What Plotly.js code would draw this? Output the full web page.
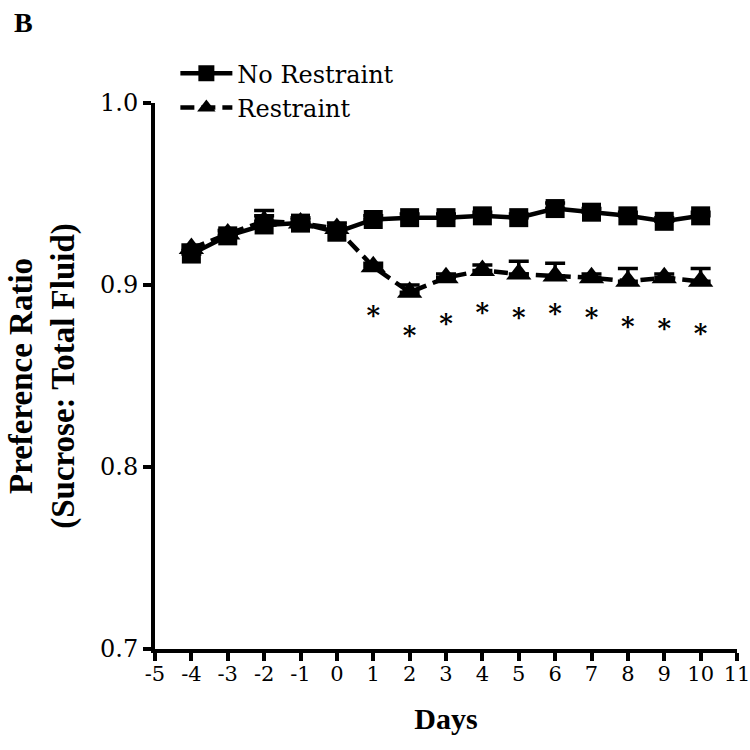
<!DOCTYPE html>
<html>
<head>
<script src="https://cdn.plot.ly/plotly-3.0.1.min.js"></script>
<style>body{margin:0;background:#fff}#chart{width:750px;height:750px}</style>
</head>
<body>
<div id="chart"></div>
<script>
var days = [-4,-3,-2,-1,0,1,2,3,4,5,6,7,8,9,10];
var noRestraint = [0.917,0.927,0.933,0.934,0.929,0.936,0.937,0.937,0.938,0.937,0.942,0.940,0.938,0.935,0.938];
var noRestraintErr = [0.002,0.003,0.008,0.003,0.003,0.002,0.002,0.002,0.002,0.002,0.003,0.002,0.002,0.002,0.002];
var restraint = [0.920,0.928,0.935,0.934,0.931,0.910,0.896,0.904,0.908,0.906,0.905,0.904,0.902,0.904,0.902];
var restraintErr = [0.002,0.002,0.003,0.002,0.003,0.002,0.004,0.002,0.003,0.007,0.007,0.002,0.007,0.002,0.007];
var starDays = [1,2,3,4,5,6,7,8,9,10];
var starY = [0.882,0.871,0.878,0.884,0.881,0.883,0.881,0.876,0.875,0.872];
var xTicks = [-5,-4,-3,-2,-1,0,1,2,3,4,5,6,7,8,9,10,11];
var yTicks = [0.7,0.8,0.9,1.0];
var yTickText = ['0.7','0.8','0.9','1.0'];

var serif = 'Liberation Serif, Times New Roman, serif';
var wide = 'DejaVu Serif, serif';
var traces = [
  {x: days, y: noRestraint, name: 'No Restraint', type: 'scatter', mode: 'lines+markers',
   line: {color: '#000', width: 4.5, dash: 'solid'},
   marker: {symbol: 'square', size: 19, color: '#000'},
   error_y: {type: 'data', array: noRestraintErr, symmetric: false, arrayminus: noRestraintErr.map(function(){return 0;}), color: '#000', thickness: 3.5, width: 10}},
  {x: days, y: restraint, name: 'Restraint', type: 'scatter', mode: 'lines+markers',
   line: {color: '#000', width: 4.5, dash: '14px,7px'},
   marker: {symbol: 'triangle-up', size: 22, color: '#000'},
   error_y: {type: 'data', array: restraintErr, symmetric: false, arrayminus: restraintErr.map(function(){return 0;}), color: '#000', thickness: 3.5, width: 10}},
  {x: starDays, y: starY, type: 'scatter', mode: 'text', text: starDays.map(function(){return '<b>*</b>';}),
   textfont: {family: wide, size: 26, color: '#000'}, showlegend: false, hoverinfo: 'skip'}
];

var layout = {
  width: 750, height: 750,
  margin: {l: 155, r: 13, t: 103, b: 101},
  paper_bgcolor: '#fff', plot_bgcolor: '#fff',
  font: {family: wide, color: '#000', size: 22},
  showlegend: true,
  legend: {x: 0.035, y: 1.095, xanchor: 'left', yanchor: 'top', bgcolor: 'rgba(0,0,0,0)',
           font: {family: wide, size: 24, color: '#000'}, tracegroupgap: 0, itemwidth: 52},
  xaxis: {range: [-5, 11], tickvals: xTicks, ticktext: xTicks.map(String), showgrid: false, zeroline: false,
          showline: true, linecolor: '#000', linewidth: 4, ticks: 'outside', ticklen: 8, tickwidth: 4, tickcolor: '#000',
          ticklabeloverflow: 'allow', ticklabelstandoff: -5,
          tickfont: {family: wide, size: 21, color: '#000'},
          title: {text: '<b>Days</b>', font: {family: serif, size: 30, color: '#000'}, standoff: 24}},
  yaxis: {range: [0.7, 1.0], tickvals: yTicks, ticktext: yTickText, showgrid: false, zeroline: false,
          showline: true, linecolor: '#000', linewidth: 4, ticks: 'outside', ticklen: 8, tickwidth: 4, tickcolor: '#000',
          tickfont: {family: wide, size: 24, color: '#000'},
          title: {text: '<b>Preference Ratio<br>(Sucrose: Total Fluid)</b>', font: {family: serif, size: 33, color: '#000'}, standoff: 16}},
  annotations: [{text: '<b>B</b>', xref: 'paper', yref: 'paper', x: -0.245, y: 1.18, xanchor: 'left', yanchor: 'top',
                 showarrow: false, font: {family: serif, size: 28, color: '#000'}}]
};
Plotly.newPlot('chart', traces, layout, {displayModeBar: false});
</script>
</body>
</html>
